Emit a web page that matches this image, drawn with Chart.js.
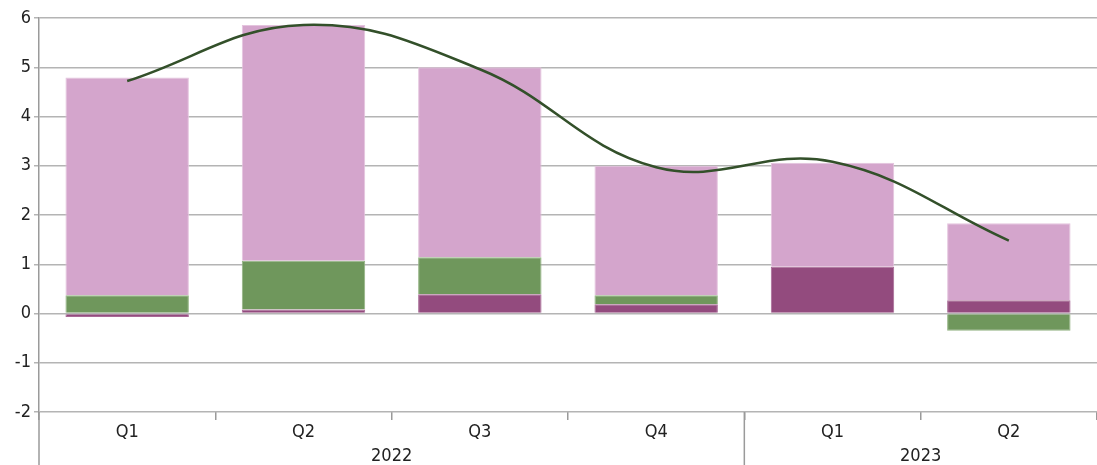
<!DOCTYPE html>
<html lang="en">
<head>
  <meta charset="UTF-8" />
  <title>Quarterly contributions</title>
  <script src="https://cdn.jsdelivr.net/npm/chart.js"></script>
  <style>
    * { margin: 0; padding: 0; }
    body { background: #fff; width: 1097px; height: 465px; overflow: hidden; }
  </style>
</head>
<body>
  <canvas id="contrib-chart" width="1097" height="465"></canvas>
  <script>
    const quarters = ['Q1', 'Q2', 'Q3', 'Q4', 'Q1', 'Q2'];
    const years = [
      { label: '2022', from: 0, to: 3 },
      { label: '2023', from: 4, to: 5 }
    ];
    const darkPart  = [-0.07, 0.08, 0.39, 0.19, 0.95, 0.27];
    const greenPart = [0.37, 0.99, 0.75, 0.18, 0.00, -0.35];
    const pinkPart  = [4.42, 4.79, 3.86, 2.63, 2.11, 1.56];
    const total     = [4.72, 5.86, 4.96, 2.97, 3.08, 1.48];

    const FONT = "'DejaVu Sans Condensed', 'Liberation Sans Narrow', 'Roboto', sans-serif";
    const GRID = '#b4b4b4';
    const AXIS = '#9a9a9a';

    // year labels under the quarters, plus the separator and axis stubs
    const yearAxis = {
      id: 'yearAxis',
      afterDraw(chart) {
        const { ctx, scales: { x }, chartArea } = chart;
        const half = (x.getPixelForValue(1) - x.getPixelForValue(0)) / 2;
        ctx.save();
        ctx.strokeStyle = AXIS;
        ctx.lineWidth = 1.5;
        ctx.beginPath();
        ctx.moveTo(chartArea.left, chartArea.bottom);
        ctx.lineTo(chartArea.left, chart.height);
        const sep = x.getPixelForValue(3) + half;
        ctx.moveTo(sep, chartArea.bottom);
        ctx.lineTo(sep, chart.height);
        ctx.stroke();
        ctx.fillStyle = '#222';
        ctx.font = '18px ' + FONT;
        ctx.textAlign = 'center';
        ctx.textBaseline = 'middle';
        years.forEach(yr => {
          const cx = (x.getPixelForValue(yr.from) + x.getPixelForValue(yr.to)) / 2;
          ctx.fillText(yr.label, cx, chartArea.bottom + 44);
        });
        ctx.restore();
      }
    };

    const barStyle = {
      type: 'bar',
      stack: 's',
      barPercentage: 0.7,
      categoryPercentage: 1,
      borderWidth: c => (c.raw ? 1 : 0),
      borderSkipped: 'start',
      order: 2
    };

    new Chart(document.getElementById('contrib-chart'), {
      data: {
        labels: quarters,
        datasets: [
          { ...barStyle, label: 'dark', data: darkPart, backgroundColor: '#934b7e', borderColor: '#a86a96' },
          { ...barStyle, label: 'green', data: greenPart, backgroundColor: '#6f975c', borderColor: '#93b383' },
          { ...barStyle, label: 'pink', data: pinkPart, backgroundColor: '#d4a5cc', borderColor: '#e4c4de' },
          {
            type: 'line',
            label: 'total',
            data: total,
            borderColor: '#33502a',
            borderWidth: 2.5,
            pointRadius: 0,
            tension: 0.4,
            fill: false,
            order: 1
          }
        ]
      },
      options: {
        responsive: false,
        animation: false,
        devicePixelRatio: 1,
        layout: { padding: { top: 18, right: 0, left: 0, bottom: 0 } },
        plugins: { legend: { display: false }, tooltip: { enabled: false } },
        scales: {
          x: {
            stacked: true,
            offset: true,
            grid: {
              offset: true,
              drawOnChartArea: false,
              tickLength: 8,
              color: AXIS,
              lineWidth: 1.5
            },
            border: { display: false },
            ticks: {
              color: '#222',
              font: { family: FONT, size: 18 },
              padding: 2
            },
            afterFit(scale) { scale.height = 53; }
          },
          y: {
            stacked: true,
            min: -2,
            max: 6,
            grid: {
              color: GRID,
              lineWidth: 1.5,
              tickLength: 5
            },
            border: { color: AXIS, width: 1.5 },
            ticks: {
              stepSize: 1,
              color: '#222',
              font: { family: FONT, size: 18 },
              padding: 3
            },
            afterFit(scale) { scale.width = 39; }
          }
        }
      },
      plugins: [yearAxis]
    });
  </script>
</body>
</html>
